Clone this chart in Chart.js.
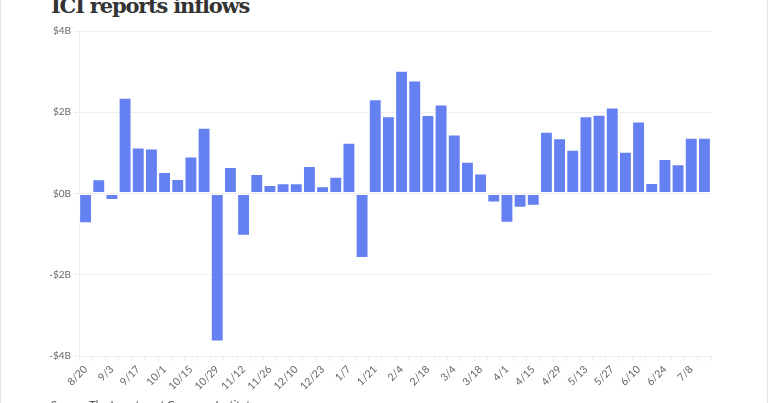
<!DOCTYPE html>
<html>
<head>
<meta charset="utf-8">
<script src="https://cdn.jsdelivr.net/npm/chart.js@4.4.0/dist/chart.umd.min.js"></script>
<style>
  html, body { margin: 0; padding: 0; background: #fff; }
  #card {
    position: relative;
    width: 766px;
    height: 403px;
    border-left: 1px solid #e6e6e6;
    border-right: 1px solid #e6e6e6;
    overflow: hidden;
  }
  #title {
    position: absolute;
    left: 50px;
    top: -7px;
    margin: 0;
    font-family: "DejaVu Serif", serif;
    font-weight: bold;
    font-size: 21px;
    letter-spacing: -1.2px;
    color: #333;
    white-space: nowrap;
  }
  #source {
    position: absolute;
    left: 50px;
    top: 398px;
    font-family: Lato, sans-serif;
    font-size: 11px;
    color: #555;
    white-space: nowrap;
  }
  #chartBox {
    position: absolute;
    left: 0;
    top: 0;
    width: 766px;
    height: 401px;
  }
</style>
</head>
<body>
<div id="card">
  <h1 id="title">ICI reports inflows</h1>
  <div id="chartBox"><canvas id="flowChart"></canvas></div>
  <div id="source">Source: The Investment Company Institute</div>
</div>
<script>
// weekly report dates
const weeks = [
  '8/20', '8/27', '9/3', '9/10', '9/17', '9/24', '10/1', '10/8', '10/15', '10/22',
  '10/29', '11/5', '11/12', '11/19', '11/26', '12/3', '12/10', '12/17', '12/23', '12/31',
  '1/7', '1/14', '1/21', '1/28', '2/4', '2/11', '2/18', '2/25', '3/4', '3/11',
  '3/18', '3/25', '4/1', '4/8', '4/15', '4/22', '4/29', '5/6', '5/13', '5/20',
  '5/27', '6/3', '6/10', '6/17', '6/24', '7/1', '7/8', '7/15'
];

// net flows, $ billions
const inflows = [
  -0.73, 0.35, -0.16, 2.36, 1.13, 1.11, 0.53, 0.36, 0.91, 1.62,
  -3.64, 0.65, -1.04, 0.48, 0.21, 0.25, 0.25, 0.68, 0.18, 0.41,
  1.25, -1.59, 2.32, 1.90, 3.02, 2.78, 1.93, 2.19, 1.45, 0.78,
  0.49, -0.22, -0.72, -0.35, -0.30, 1.52, 1.36, 1.08, 1.90, 1.94,
  2.12, 1.03, 1.77, 0.26, 0.85, 0.72, 1.37, 1.37
];

const yTicks = [-4, -2, 0, 2, 4];

const ctx = document.getElementById('flowChart').getContext('2d');

function money(v) {
  if (v < 0) return '-$' + Math.abs(v) + 'B';
  return '$' + v + 'B';
}

const flowChart = new Chart(ctx, {
  type: 'bar',
  data: {
    labels: weeks,
    datasets: [{
      label: 'Inflows',
      data: inflows,
      backgroundColor: '#6480f1',
      borderColor: '#ffffff',
      borderWidth: 1,
      borderSkipped: false,
      categoryPercentage: 1.0,
      barPercentage: 0.98
    }]
  },
  options: {
    responsive: true,
    maintainAspectRatio: false,
    animation: false,
    layout: {
      padding: { left: 48, top: 31, right: 56, bottom: 0 }
    },
    plugins: {
      legend: { display: false },
      tooltip: { enabled: false }
    },
    scales: {
      x: {
        grid: {
          display: true,
          drawOnChartArea: false,
          drawTicks: true,
          tickLength: 5,
          color: '#eeeeee'
        },
        border: { display: false },
        ticks: {
          autoSkip: false,
          minRotation: 45,
          maxRotation: 45,
          padding: 2,
          color: '#666',
          font: { family: 'Lato', size: 10.5 },
          callback: function(value, index) {
            return index % 2 === 0 ? weeks[index] : '';
          }
        },
        afterFit: function(scale) { scale.height = 45; }
      },
      y: {
        min: -4,
        max: 4,
        afterBuildTicks: function(scale) {
          scale.ticks = yTicks.map(v => ({ value: v }));
        },
        grid: {
          color: '#eeeeee',
          tickLength: 5
        },
        border: { display: true, color: '#eeeeee' },
        ticks: {
          padding: 3,
          color: '#666',
          font: { family: 'Lato', size: 10 },
          callback: function(value) { return money(value); }
        },
        afterFit: function(scale) { scale.width = 30; }
      }
    }
  }
});
</script>
</body>
</html>
